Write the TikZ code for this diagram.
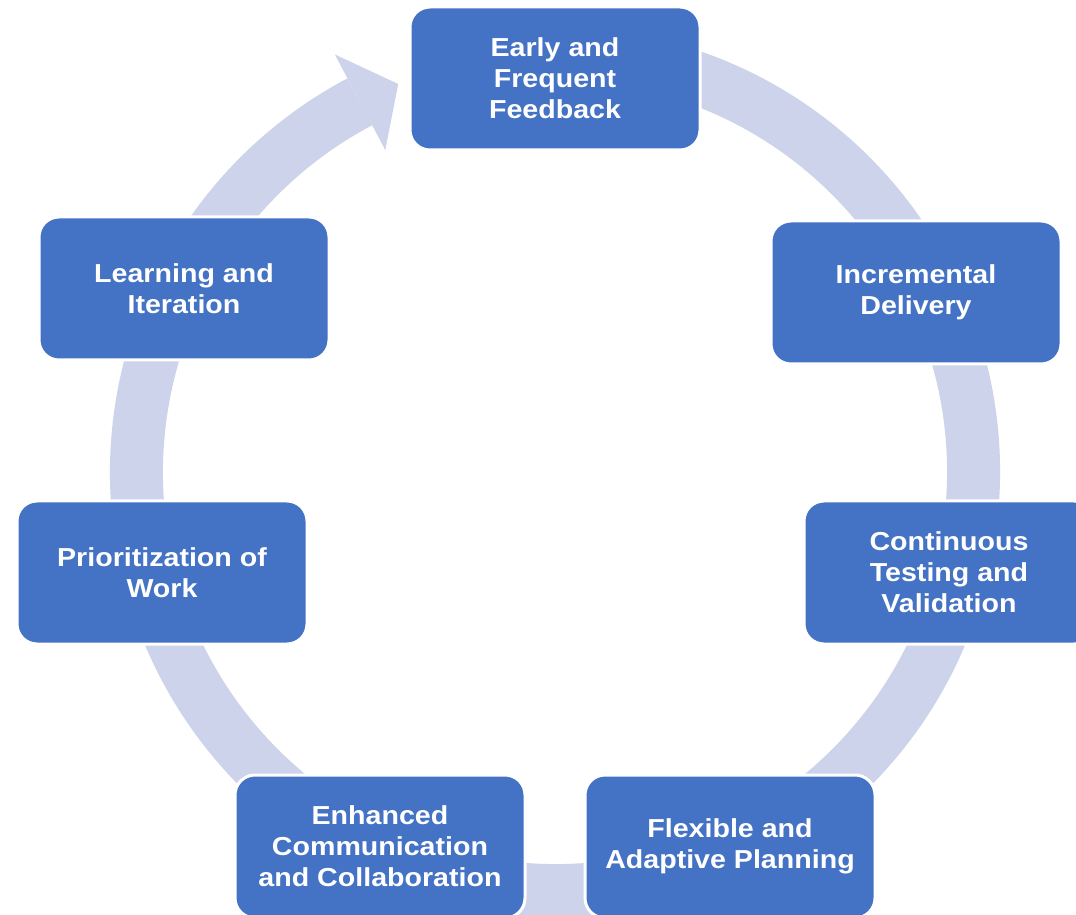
\documentclass[tikz,border=0pt]{standalone}
\usepackage{fontspec}
\setmainfont[FakeStretch=1.1]{Liberation Sans}
\usetikzlibrary{calc}
\definecolor{boxblue}{RGB}{68,114,196}
\definecolor{ringcol}{RGB}{205,211,234}
\begin{document}
\begin{tikzpicture}[x=1pt,y=1pt,
  stepbox/.style={rectangle, rounded corners=20pt, fill=boxblue, draw=white, line width=3pt,
    minimum width=290pt, minimum height=143pt, inner sep=0pt, text=white, align=center,
    font=\bfseries\fontsize{26}{31}\selectfont},
  ring/.style={draw=ringcol, line width=53pt, line cap=butt}]
\useasboundingbox (0,0) rectangle (1076,914);
\clip (0,0) rectangle (1076,914);
\fill[white] (0,0) rectangle (1076,914);
\coordinate (c) at (555,442);
% ring
\draw[ring] ($(c)+(80:418.5pt)$) arc[start angle=80, end angle=-242.2, radius=418.5pt];
% arrow head
\coordinate (h1) at ($(c)+(117.8:364pt)$);
\coordinate (h2) at ($(c)+(117.8:472pt)$);
\coordinate (tip) at ($(c)+(112:418.5pt)$);
\fill[ringcol] (h1) -- (h2) -- (tip) -- cycle;
% boxes
\node[stepbox] (early) at (555,835.5) {Early and\\Frequent\\Feedback};
\node[stepbox] (incr) at (916,621.5) {Incremental\\Delivery};
\node[stepbox] (cont) at (949,341.5) {Continuous\\Testing and\\Validation};
\node[stepbox] (flex) at (730,67.5) {Flexible and\\Adaptive Planning};
\node[stepbox] (enh) at (380,67.5) {Enhanced\\Communication\\and Collaboration};
\node[stepbox] (prio) at (162,341.5) {Prioritization of\\Work};
\node[stepbox] (learn) at (184,625.5) {Learning and\\Iteration};
\end{tikzpicture}
\end{document}
